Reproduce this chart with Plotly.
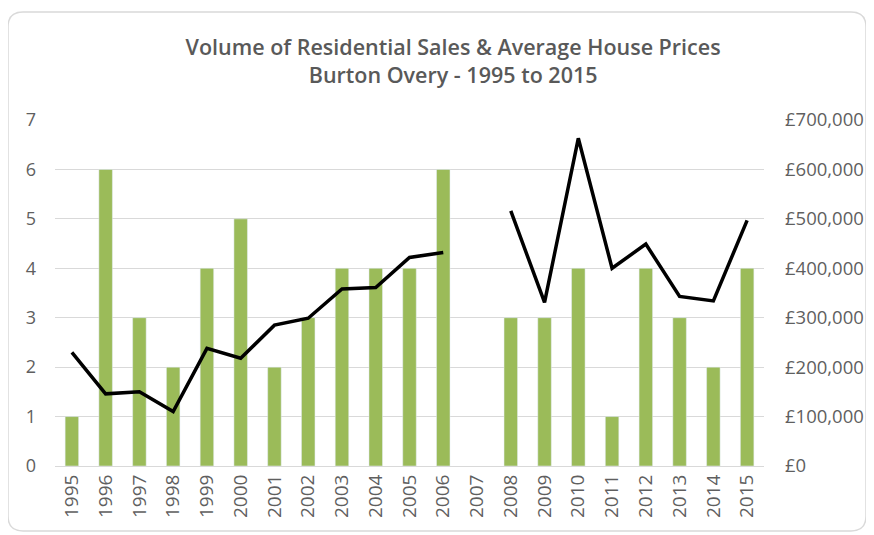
import plotly.graph_objects as go

years = [str(y) for y in range(1995, 2016)]
sales = [1, 6, 3, 2, 4, 5, 2, 3, 4, 4, 4, 6, None, 3, 3, 4, 1, 4, 3, 2, 4]
avg_price = [230000, 146000, 150000, 110000, 238000, 218000, 285000, 299000, 358000,
             361000, 422000, 432000, None, 516000, 331000, 663000, 400000, 449000,
             343000, 334000, 497000]
left_ticks = [0, 1, 2, 3, 4, 5, 6, 7]
right_ticks = [0, 100000, 200000, 300000, 400000, 500000, 600000, 700000]
right_labels = ["£0", "£100,000", "£200,000", "£300,000", "£400,000", "£500,000",
                "£600,000", "£700,000"]

W, H = 866, 527
L, R, T, B = 47, 110, 112, 69
pw, ph = W - L - R, H - T - B

fig = go.Figure()
fig.add_trace(go.Bar(x=years, y=sales, marker_color="#9bbb59", name="Sales",
                     yaxis="y"))
fig.add_trace(go.Scatter(x=years, y=avg_price, mode="lines", name="Avg price",
                         line=dict(color="black", width=3.5), yaxis="y2",
                         connectgaps=False))

font_color = "#595959"
tick_color = "#5f5f5f"
fig.update_layout(
    width=W, height=H,
    margin=dict(l=L, r=R, t=T, b=B, autoexpand=False),
    paper_bgcolor="white", plot_bgcolor="white",
    showlegend=False,
    bargap=0.6,
    font=dict(family="Open Sans", color=font_color),
    title=dict(text="Volume of Residential Sales & Average House Prices<br>Burton Overy - 1995 to 2015",
               x=0.514, xanchor="center", y=0.91, yanchor="top",
               font=dict(family="Open Sans", size=21.5, color=font_color, weight=600)),
    xaxis=dict(type="category", tickangle=-90, automargin=False,
               tickfont=dict(family="Open Sans", size=19, color=tick_color),
               showgrid=False, showline=True, linecolor="#d9d9d9", ticks=""),
    yaxis=dict(range=[0, 7], tickvals=left_ticks, automargin=False,
               tickfont=dict(family="Open Sans", size=18, color=tick_color),
               showgrid=True, gridcolor="#d9d9d9", zeroline=False,
               ticklabelstandoff=18),
    yaxis2=dict(range=[0, 700000], overlaying="y", side="right", tickvals=right_ticks,
                ticktext=right_labels, automargin=False,
                tickfont=dict(family="Open Sans", size=18.5, color=tick_color),
                showgrid=False, zeroline=False, ticklabelstandoff=20),
)

# rounded chart border
x0, x1 = (0 - L) / pw, (858 - L) / pw
y1, y0 = 1 + (T - 4) / ph, 1 - (523 - T) / ph
rx, ry = 15 / pw, 15 / ph
path = (f"M {x0+rx},{y1} L {x1-rx},{y1} Q {x1},{y1} {x1},{y1-ry} "
        f"L {x1},{y0+ry} Q {x1},{y0} {x1-rx},{y0} L {x0+rx},{y0} "
        f"Q {x0},{y0} {x0},{y0+ry} L {x0},{y1-ry} Q {x0},{y1} {x0+rx},{y1} Z")
fig.add_shape(type="path", path=path, xref="paper", yref="paper",
              line=dict(color="#d9d9d9", width=1.5), layer="below")

fig.write_html("out.html")
